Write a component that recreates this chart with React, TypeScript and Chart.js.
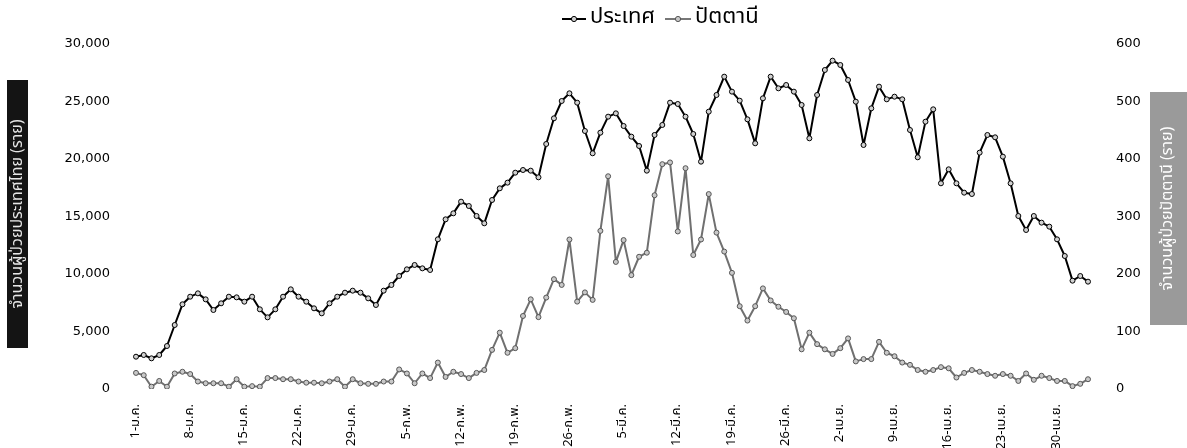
import React, { useEffect, useRef } from 'react';
import { Chart, registerables } from 'chart.js';

Chart.register(...registerables);

const monthNames = ['ม.ค.', 'ก.พ.', 'มี.ค.', 'เม.ย.', 'พ.ค.'];
const monthDays = [31, 28, 31, 30, 31];
const DAY_COUNT = 124;

const categories: string[] = [];
for (let m = 0; m < monthNames.length && categories.length < DAY_COUNT; m++) {
  for (let d = 1; d <= monthDays[m] && categories.length < DAY_COUNT; d++) {
    categories.push(`${d}-${monthNames[m]}`);
  }
}

const thailandCases = [
  2809, 2957, 2667, 2957, 3739, 5565, 7363, 8027, 8318, 7797,
  6870, 7450, 8027, 7971, 7594, 8027, 6928, 6232, 6928, 8027,
  8667, 8027, 7594, 7015, 6580, 7450, 8027, 8377, 8551, 8377,
  7884, 7305, 8551, 9044, 9826, 10406, 10783, 10493, 10348, 13015,
  14754, 15276, 16290, 15914, 15044, 14407, 16435, 17450, 17943, 18812,
  19044, 18986, 18407, 21305, 23537, 25044, 25711, 24899, 22436, 20496,
  22291, 23681, 23971, 22870, 21943, 21131, 18986, 22088, 22958, 24899,
  24784, 23681, 22175, 19769, 24116, 25566, 27160, 25856, 25073, 23450,
  21363, 25276, 27160, 26146, 26436, 25856, 24697, 21798, 25566, 27740,
  28552, 28175, 26871, 24986, 21218, 24406, 26291, 25189, 25421, 25189,
  22523, 20148, 23247, 24320, 17885, 19102, 17885, 17073, 16957, 20553,
  22088, 21885, 20206, 17885, 15044, 13827, 15044, 14465, 14117, 13015,
  11566, 9420, 9826, 9333,
];

const pattaniCases = [
  28, 24, 4, 14, 4, 27, 30, 26, 13, 10,
  10, 10, 4, 17, 4, 5, 4, 19, 19, 17,
  17, 13, 11, 11, 10, 13, 17, 4, 17, 10,
  9, 9, 13, 13, 34, 27, 10, 27, 19, 46,
  21, 30, 26, 19, 28, 33, 68, 98, 63, 71,
  127, 156, 125, 159, 191, 181, 260, 152, 168, 155,
  275, 370, 221, 259, 198, 230, 237, 337, 391, 394,
  274, 384, 233, 260, 339, 272, 239, 202, 144, 119,
  144, 175, 154, 143, 134, 123, 69, 98, 78, 69,
  61, 71, 88, 48, 52, 52, 82, 63, 57, 46,
  42, 33, 30, 33, 38, 36, 20, 28, 33, 30,
  26, 23, 26, 23, 14, 27, 16, 23, 19, 14,
  14, 5, 9, 17,
];

const leftTicks = { min: 0, max: 30000, step: 5000 };
const rightTicks = { min: 0, max: 600, step: 100 };
const seriesNames = ['ประเทศ', 'ปัตตานี'];
const leftTitle = 'จำนวนผู้ป่วยประเทศไทย (ราย)';
const rightTitle = 'จำนวนผู้ป่วยปัตตานี (ราย)';

const FONT = "'DejaVu Sans', 'Liberation Sans', sans-serif";
const THAI_FONT = "'Noto Sans Thai', 'Tahoma', 'DejaVu Sans', sans-serif";

const decorPlugin = {
  id: 'decor',
  afterDraw(chart: any) {
    const ctx: CanvasRenderingContext2D = chart.ctx;
    ctx.save();
    // left axis title box
    ctx.fillStyle = '#141414';
    ctx.fillRect(7, 80, 21, 268);
    ctx.save();
    ctx.translate(17.5, 214);
    ctx.rotate(-Math.PI / 2);
    ctx.fillStyle = '#e6e6e6';
    ctx.font = `16px ${THAI_FONT}`;
    ctx.textAlign = 'center';
    ctx.textBaseline = 'middle';
    ctx.fillText(leftTitle, 0, 1, 262);
    ctx.restore();
    // right axis title box
    ctx.fillStyle = '#9a9a9a';
    ctx.fillRect(1150, 92, 37, 233);
    ctx.save();
    ctx.translate(1168, 208.5);
    ctx.rotate(-Math.PI / 2);
    ctx.fillStyle = '#ffffff';
    ctx.font = `16px ${THAI_FONT}`;
    ctx.textAlign = 'center';
    ctx.textBaseline = 'middle';
    ctx.fillText(rightTitle, 0, 1, 228);
    ctx.restore();

    // legend
    const items = [
      { x: 562, w: 24, line: '#000', fill: '#d0d0d0', border: '#000', text: seriesNames[0] },
      { x: 665, w: 26, line: '#777', fill: '#c8c8c8', border: '#555', text: seriesNames[1] },
    ];
    const ly = 19;
    items.forEach((it) => {
      ctx.strokeStyle = it.line;
      ctx.lineWidth = 2;
      ctx.beginPath();
      ctx.moveTo(it.x, ly);
      ctx.lineTo(it.x + it.w, ly);
      ctx.stroke();
      ctx.beginPath();
      ctx.arc(it.x + it.w / 2, ly, 2.6, 0, Math.PI * 2);
      ctx.fillStyle = it.fill;
      ctx.fill();
      ctx.lineWidth = 1;
      ctx.strokeStyle = it.border;
      ctx.stroke();
      ctx.fillStyle = '#000';
      ctx.font = `22px ${THAI_FONT}`;
      ctx.textAlign = 'left';
      ctx.textBaseline = 'middle';
      ctx.fillText(it.text, it.x + it.w + 4, ly);
    });
    ctx.restore();
  },
};

export default function App() {
  const canvasRef = useRef<HTMLCanvasElement | null>(null);

  useEffect(() => {
    document.body.style.margin = '0';
    const canvas = canvasRef.current;
    if (!canvas) return;
    const chart = new Chart(canvas, {
      type: 'line',
      data: {
        labels: categories,
        datasets: [
          {
            label: seriesNames[0],
            data: thailandCases,
            yAxisID: 'y',
            borderColor: '#000',
            borderWidth: 2,
            borderJoinStyle: 'round',
            pointRadius: 2.5,
            pointBackgroundColor: '#d0d0d0',
            pointBorderColor: '#000',
            pointBorderWidth: 1,
            tension: 0,
          },
          {
            label: seriesNames[1],
            data: pattaniCases,
            yAxisID: 'y1',
            borderColor: '#707070',
            borderWidth: 2,
            borderJoinStyle: 'round',
            pointRadius: 2.5,
            pointBackgroundColor: '#c8c8c8',
            pointBorderColor: '#555',
            pointBorderWidth: 1,
            tension: 0,
          },
        ],
      },
      options: {
        animation: false,
        responsive: false,
        devicePixelRatio: 1,
        layout: { padding: { top: 44, left: 0, right: 0, bottom: 0 } },
        plugins: {
          legend: { display: false },
          tooltip: { enabled: false },
        },
        scales: {
          x: {
            type: 'category',
            grid: { display: false, drawTicks: false },
            border: { display: false },
            ticks: {
              autoSkip: false,
              maxRotation: 90,
              minRotation: 90,
              padding: 15,
              color: '#000',
              font: { size: 13, family: THAI_FONT },
              callback: function (this: any, _v: any, i: number) {
                return i % 7 === 0 ? categories[i] : null;
              },
            },
            afterFit: (s: any) => {
              s.height = 59;
            },
          },
          y: {
            position: 'left',
            min: leftTicks.min,
            max: leftTicks.max,
            grid: { display: false, drawTicks: false },
            border: { display: false },
            ticks: {
              stepSize: leftTicks.step,
              padding: 26,
              color: '#000',
              font: { size: 13, family: FONT },
              callback: (v: any) => Number(v).toLocaleString('en-US'),
            },
            afterFit: (s: any) => {
              s.width = 136;
            },
          },
          y1: {
            position: 'right',
            min: rightTicks.min,
            max: rightTicks.max,
            grid: { display: false, drawTicks: false },
            border: { display: false },
            ticks: {
              stepSize: rightTicks.step,
              padding: 28,
              color: '#000',
              font: { size: 13, family: FONT },
            },
            afterFit: (s: any) => {
              s.width = 99;
            },
          },
        },
      },
      plugins: [decorPlugin],
    } as any);
    return () => chart.destroy();
  }, []);

  return (
    <div style={{ width: 1187, height: 448 }}>
      <canvas ref={canvasRef} width={1187} height={448} style={{ display: 'block' }} />
    </div>
  );
}
